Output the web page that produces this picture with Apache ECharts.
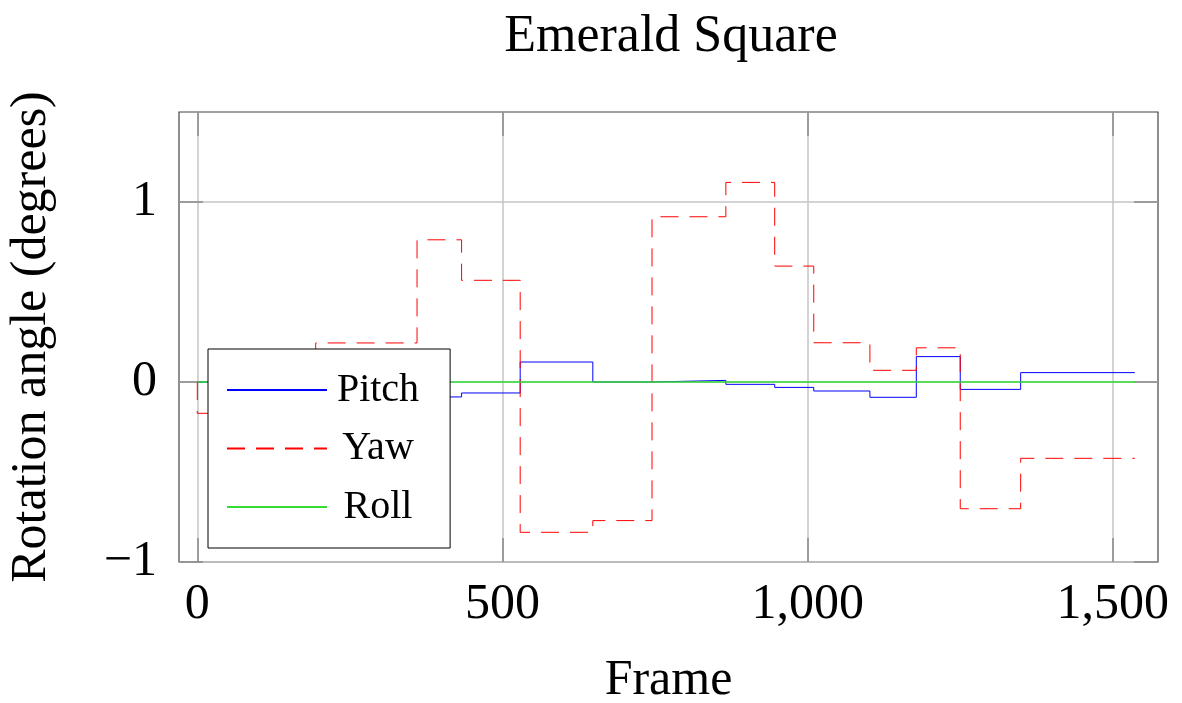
<!DOCTYPE html>
<html>
<head>
<meta charset="utf-8">
<title>Emerald Square</title>
<script src="https://cdn.jsdelivr.net/npm/echarts@6/dist/echarts.min.js"></script>
<style>
  html, body { margin: 0; padding: 0; background: #fff; }
  #chart { width: 1182px; height: 703px; }
</style>
</head>
<body>
<div id="chart"></div>
<script>
// Frame indices where the rotation estimate changes (each value holds up to its frame)
const frames = [0, 194, 360, 433, 529, 648, 745, 866, 946, 1010, 1102, 1178, 1250, 1349, 1536];
const pitch  = [0, -0.005, -0.04, -0.083, -0.061, 0.111, 0.0, 0.009, -0.013, -0.03, -0.05, -0.085, 0.141, -0.041, 0.052];
const yaw    = [0, -0.174, 0.217, 0.79, 0.565, -0.835, -0.77, 0.918, 1.109, 0.644, 0.218, 0.065, 0.19, -0.704, -0.424];
const roll   = [0, 0, 0, 0, 0, 0, 0, 0, 0, 0, 0, 0, 0, 0, 0];

const xTicks = [0, 500, 1000, 1500];
const yTicks = [-1, 0, 1];

const FONT = '"Liberation Serif", "DejaVu Serif", serif';

function pairs(values) {
  return frames.map((f, i) => [f, values[i]]);
}

const fmtX = v => Number(v).toLocaleString('en-US');
const fmtY = v => (v < 0 ? '\u2212' + Math.abs(v) : String(v));

const tickStyle = { color: '#8a8a8a', width: 1.5 };
const noLine = { show: false, onZero: false };

const chart = echarts.init(document.getElementById('chart'), null, { renderer: 'canvas' });

chart.setOption({
  animation: false,
  backgroundColor: '#fff',
  title: {
    text: 'Emerald Square',
    left: 666,
    top: 6,
    textAlign: 'center',
    textStyle: { fontFamily: FONT, fontSize: 52, fontWeight: 'normal', color: '#000' }
  },
  grid: {
    left: 179, top: 112, right: 24, bottom: 141,
    outerBoundsMode: 'none',
    containLabel: false,
    show: true, borderColor: '#444', borderWidth: 1.2, backgroundColor: 'transparent'
  },
  legend: {
    orient: 'vertical',
    left: 208, top: 349,
    padding: [21, 31, 21, 18],
    itemWidth: 100, itemHeight: 2, itemGap: 18.5,
    backgroundColor: '#fff',
    borderColor: '#000', borderWidth: 1,
    itemStyle: { opacity: 0 },
    formatter: name => '{c|' + name + '}',
    textStyle: {
      fontFamily: FONT, fontSize: 40, color: '#000',
      rich: { c: { fontFamily: FONT, fontSize: 40, color: '#000', width: 92, align: 'center' } }
    },
    data: ['Pitch', 'Yaw', 'Roll']
  },
  xAxis: [{
    type: 'value',
    min: -30, max: 1574,
    name: 'Frame',
    nameLocation: 'middle',
    nameGap: 94,
    nameTextStyle: { fontFamily: FONT, fontSize: 50, color: '#000' },
    axisLine: noLine,
    axisTick: { show: true, inside: true, length: 24, lineStyle: tickStyle, customValues: xTicks },
    axisLabel: { show: true, margin: 18, fontFamily: FONT, fontSize: 50, color: '#000',
                 customValues: xTicks, formatter: fmtX },
    splitLine: { show: true, lineStyle: { color: '#c4c4c4', width: 1.5 } }
  }, {
    type: 'value',
    position: 'top',
    min: -30, max: 1574,
    axisLine: noLine,
    axisTick: { show: true, inside: true, length: 24, lineStyle: tickStyle, customValues: xTicks },
    axisLabel: { show: false },
    splitLine: { show: false }
  }],
  yAxis: [{
    type: 'value',
    min: -1, max: 1.5,
    name: 'Rotation angle (degrees)',
    nameLocation: 'middle',
    nameGap: 122,
    nameTextStyle: { fontFamily: FONT, fontSize: 50, color: '#000' },
    axisLine: noLine,
    axisTick: { show: true, inside: true, length: 24, lineStyle: tickStyle, customValues: yTicks },
    axisLabel: { show: true, margin: 22, fontFamily: FONT, fontSize: 50, color: '#000',
                 customValues: yTicks, formatter: fmtY },
    splitLine: { show: true, lineStyle: { color: '#c4c4c4', width: 1.5 } }
  }, {
    type: 'value',
    position: 'right',
    min: -1, max: 1.5,
    axisLine: noLine,
    axisTick: { show: true, inside: true, length: 24, lineStyle: tickStyle, customValues: yTicks },
    axisLabel: { show: false },
    splitLine: { show: false }
  }],
  series: [{
    name: 'Pitch',
    type: 'line',
    step: 'start',
    symbol: 'none',
    data: pairs(pitch),
    lineStyle: { color: '#0000ff', width: 1 },
    itemStyle: { color: '#0000ff' }
  }, {
    name: 'Yaw',
    type: 'line',
    step: 'start',
    symbol: 'none',
    data: pairs(yaw),
    lineStyle: { color: '#ff0000', width: 1, type: [18, 11] },
    itemStyle: { color: '#ff0000' }
  }, {
    name: 'Roll',
    type: 'line',
    step: 'start',
    symbol: 'none',
    data: pairs(roll),
    lineStyle: { color: '#33dd33', width: 1.3 },
    itemStyle: { color: '#33dd33' }
  }]
});
</script>
</body>
</html>
